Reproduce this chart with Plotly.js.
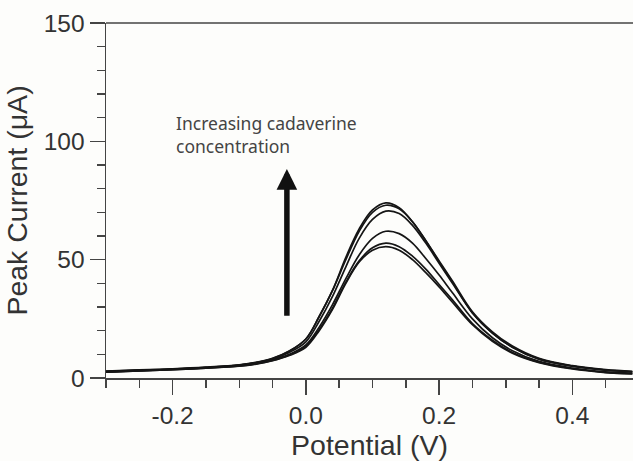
<!DOCTYPE html>
<html>
<head>
<meta charset="utf-8">
<script src="https://cdn.plot.ly/plotly-3.0.1.min.js"></script>
<style>html,body{margin:0;padding:0;background:#fdfdfb;}#chart{width:633px;height:461px;}</style>
</head>
<body>
<div id="chart"></div>
<script>
// Potential (V)
const potential = [-0.30, -0.25, -0.20, -0.15, -0.10, -0.075, -0.05, -0.025, 0.00, 0.02, 0.04, 0.06, 0.08, 0.10, 0.12, 0.14, 0.16, 0.18, 0.20, 0.22, 0.25, 0.28, 0.31, 0.35, 0.40, 0.45, 0.49];
// Peak current (µA) for increasing cadaverine concentration
const currentA = [2.8, 3.3, 3.8, 4.5, 5.5, 6.5, 8.2, 11.3, 16.5, 26.0, 37.0, 51.0, 63.0, 71.0, 74.0, 72.0, 66.0, 58.0, 49.0, 40.5, 27.5, 19.0, 13.0, 8.0, 5.0, 3.3, 2.6];
const currentB = [2.9, 3.4, 3.9, 4.6, 5.6, 6.6, 8.3, 11.4, 16.5, 26.0, 37.0, 50.0, 62.0, 70.0, 73.0, 71.5, 66.0, 58.0, 49.5, 41.0, 28.0, 19.5, 13.5, 8.3, 5.2, 3.5, 2.8];
const currentC = [2.7, 3.2, 3.7, 4.4, 5.4, 6.4, 8.0, 10.8, 15.3, 24.0, 34.5, 47.0, 59.0, 67.0, 70.5, 69.5, 64.5, 57.0, 48.5, 40.0, 27.5, 19.0, 13.0, 8.0, 5.0, 3.3, 2.6];
const currentD = [2.6, 3.1, 3.6, 4.3, 5.2, 6.1, 7.6, 10.0, 14.0, 21.5, 31.0, 42.0, 52.0, 59.0, 62.0, 61.0, 57.0, 50.5, 43.5, 36.0, 25.0, 17.0, 11.5, 7.0, 4.2, 2.6, 2.0];
const currentE = [2.5, 3.0, 3.5, 4.2, 5.1, 6.0, 7.4, 9.7, 13.5, 20.5, 29.5, 40.5, 49.5, 55.0, 57.0, 55.5, 51.5, 46.0, 39.5, 33.0, 23.0, 16.0, 10.8, 6.7, 4.0, 2.4, 1.8];
const currentF = [2.5, 3.0, 3.5, 4.2, 5.0, 5.9, 7.3, 9.5, 13.0, 20.0, 29.0, 40.0, 49.0, 54.0, 55.5, 54.0, 50.0, 44.5, 38.5, 32.0, 22.5, 15.5, 10.5, 6.5, 3.8, 2.3, 1.7];
const allCurves = [currentA, currentB, currentC, currentD, currentE, currentF];

const xTicks = [-0.2, 0.0, 0.2, 0.4];
const xTickText = ['-0.2', '0.0', '0.2', '0.4'];
const yTicks = [0, 50, 100, 150];
const yTickText = ['0', '50', '100', '150'];

const annotationText = 'Increasing cadaverine<br>concentration';

const traces = allCurves.map(ys => ({
  x: potential, y: ys, type: 'scatter', mode: 'lines',
  line: {color: '#151515', width: 1.7, shape: 'spline', smoothing: 1.0},
  hoverinfo: 'skip', showlegend: false
}));

const axisFont = {family: 'Liberation Sans, Arial, sans-serif', size: 24.5, color: '#333'};
const titleFont = {family: 'Liberation Sans, Arial, sans-serif', size: 28.5, color: '#333'};

const layout = {
  width: 633, height: 461,
  margin: {l: 106, r: 0, t: 23, b: 83},
  paper_bgcolor: '#fdfdfb', plot_bgcolor: '#fdfdfb',
  showlegend: false,
  xaxis: {
    range: [-0.3, 0.491], showgrid: false, zeroline: false,
    showline: true, linecolor: '#444', linewidth: 1.5,
    ticks: 'outside', ticklen: 15, tickwidth: 1.5, tickcolor: '#444',
    tickvals: xTicks, ticktext: xTickText, tickfont: axisFont,
    minor: {dtick: 0.05, tick0: 0, ticks: 'outside', ticklen: 8, tickwidth: 1.5, tickcolor: '#444', showgrid: false},
    title: {text: 'Potential (V)', font: titleFont, standoff: 11},
    automargin: false
  },
  yaxis: {
    range: [0, 150], showgrid: false, zeroline: false,
    showline: true, linecolor: '#444', linewidth: 1.5,
    ticks: 'outside', ticklen: 15, tickwidth: 1.5, tickcolor: '#444',
    tickvals: yTicks, ticktext: yTickText, tickfont: axisFont,
    minor: {dtick: 10, tick0: 0, ticks: 'outside', ticklen: 8, tickwidth: 1.5, tickcolor: '#444', showgrid: false},
    title: {text: 'Peak Current (μA)', font: titleFont, standoff: 7},
    automargin: false
  },
  shapes: [
    {type: 'line', xref: 'paper', yref: 'paper', x0: 0, x1: 1, y0: 1, y1: 1, line: {color: '#444', width: 1.5}}
  ],
  annotations: [
    {x: -0.198, y: 113.5, xref: 'x', yref: 'y', xanchor: 'left', yanchor: 'top', align: 'left',
     text: annotationText, showarrow: false,
     font: {family: 'Noto Sans, Open Sans, sans-serif', size: 17.5, color: '#444'}},
    {x: -0.0285, y: 88.3, xref: 'x', yref: 'y', ax: -0.0285, ay: 25.7, axref: 'x', ayref: 'y',
     text: '', showarrow: true, arrowhead: 2, arrowsize: 0.75, arrowwidth: 5.5, arrowcolor: '#111', standoff: 0}
  ]
};

Plotly.newPlot('chart', traces, layout, {displayModeBar: false, staticPlot: true});
</script>
</body>
</html>
